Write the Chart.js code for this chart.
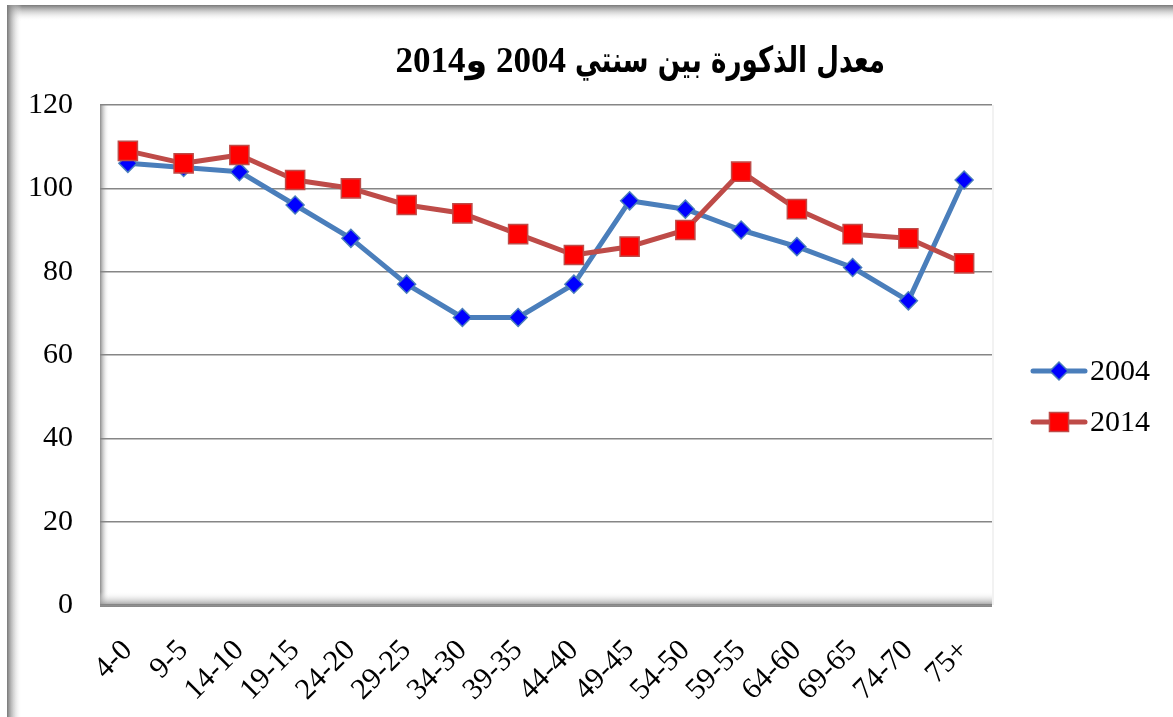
<!DOCTYPE html>
<html>
<head>
<meta charset="utf-8">
<script src="https://cdn.jsdelivr.net/npm/chart.js@4"></script>
<style>
  html, body { margin: 0; padding: 0; background: #ffffff; }
  canvas { display: block; }
</style>
</head>
<body>
<canvas id="c" width="1173" height="717"></canvas>
<script>
const titleWords = "معدل الذكورة بين سنتي";
const titleYears = "2004 و2014";
const categories = ["4-0","9-5","14-10","19-15","24-20","29-25","34-30","39-35","44-40","49-45","54-50","59-55","64-60","69-65","74-70","75+"];
const series2004 = [106,105,104,96,88,77,69,69,77,97,95,90,86,81,73,102];
const series2014 = [109,106,108,102,100,96,94,89,84,86,90,104,95,89,88,82];
const seriesNames = ["2004","2014"];
const yTicks = [0,20,40,60,80,100,120];

const SERIF = "'Liberation Serif', 'Times New Roman', 'DejaVu Sans', serif";

function fitText(ctx, text, rightX, baseY, maxW) {
  const w = ctx.measureText(text).width;
  const sx = Math.min(1, maxW / w);
  ctx.save();
  ctx.translate(rightX, baseY);
  ctx.scale(sx, 1);
  ctx.textAlign = 'right';
  ctx.fillText(text, 0, 0);
  ctx.restore();
}

const decorPlugin = {
  id: 'decor',
  beforeDraw(chart) {
    const ctx = chart.ctx;
    const a = chart.chartArea;
    ctx.save();
    let g = ctx.createLinearGradient(0, 5, 0, 21);
    g.addColorStop(0, 'rgba(120,120,120,1)');
    g.addColorStop(1, 'rgba(255,255,255,0)');
    ctx.fillStyle = g;
    ctx.fillRect(7, 5, chart.width - 7, 16);
    g = ctx.createLinearGradient(7, 0, 22, 0);
    g.addColorStop(0, 'rgba(120,120,120,1)');
    g.addColorStop(1, 'rgba(255,255,255,0)');
    ctx.fillStyle = g;
    ctx.fillRect(7, 5, 15, chart.height - 5);
    g = ctx.createLinearGradient(a.left, 0, a.left + 9, 0);
    g.addColorStop(0, 'rgba(140,140,140,1)');
    g.addColorStop(1, 'rgba(255,255,255,0)');
    ctx.fillStyle = g;
    ctx.fillRect(a.left, a.top, 9, a.bottom - a.top);
    g = ctx.createLinearGradient(0, a.bottom - 13, 0, a.bottom + 2);
    g.addColorStop(0, 'rgba(255,255,255,0)');
    g.addColorStop(1, 'rgba(130,130,130,1)');
    ctx.fillStyle = g;
    ctx.fillRect(a.left, a.bottom - 13, a.right - a.left, 15);
    ctx.fillStyle = '#f2f2f2';
    ctx.fillRect(a.right, a.top, 2, a.bottom - a.top);
    ctx.restore();
  },
  afterDraw(chart) {
    const ctx = chart.ctx;
    ctx.save();
    ctx.direction = 'rtl';
    ctx.fillStyle = '#000';
    ctx.textBaseline = 'alphabetic';
    ctx.font = "bold 36px 'DejaVu Sans', sans-serif";
    fitText(ctx, titleWords, 885, 72, 310);
    ctx.font = "bold 35px " + SERIF;
    fitText(ctx, titleYears, 566, 72, 172);
    ctx.restore();

    ctx.save();
    const items = [
      {y: 371, ds: chart.data.datasets[0]},
      {y: 422, ds: chart.data.datasets[1]}
    ];
    items.forEach(it => {
      const ds = it.ds;
      ctx.strokeStyle = ds.borderColor;
      ctx.lineWidth = ds.borderWidth;
      ctx.lineCap = 'round';
      ctx.beginPath();
      ctx.moveTo(1033, it.y);
      ctx.lineTo(1085, it.y);
      ctx.stroke();
      ctx.fillStyle = ds.pointBackgroundColor;
      ctx.strokeStyle = ds.pointBorderColor;
      ctx.lineWidth = ds.pointBorderWidth;
      Chart.helpers.drawPoint(ctx, {
        pointStyle: ds.pointStyle,
        rotation: 0,
        radius: ds.pointRadius,
        borderWidth: ds.pointBorderWidth
      }, 1059, it.y);
      ctx.font = "30px " + SERIF;
      ctx.fillStyle = '#000';
      ctx.textAlign = 'left';
      ctx.textBaseline = 'middle';
      ctx.fillText(ds.label, 1090, it.y + 1);
    });
    ctx.restore();
  }
};

new Chart(document.getElementById('c'), {
  type: 'line',
  data: {
    labels: categories,
    datasets: [
      {
        label: seriesNames[0],
        data: series2004,
        borderColor: '#4A7EBB',
        borderWidth: 5,
        pointStyle: 'rectRot',
        pointRadius: 9,
        pointHoverRadius: 9,
        pointBackgroundColor: '#0000FF',
        pointBorderColor: '#4A7EBB',
        pointBorderWidth: 1.5,
        tension: 0,
        borderJoinStyle: 'round',
        order: 2
      },
      {
        label: seriesNames[1],
        data: series2014,
        borderColor: '#BE4B48',
        borderWidth: 5,
        pointStyle: 'rect',
        pointRadius: 13.5,
        pointHoverRadius: 13.5,
        pointBackgroundColor: '#FF0000',
        pointBorderColor: '#BE4B48',
        pointBorderWidth: 1.5,
        tension: 0,
        borderJoinStyle: 'round',
        order: 1
      }
    ]
  },
  options: {
    responsive: false,
    animation: false,
    devicePixelRatio: 1,
    layout: { padding: { top: 105, right: 181, left: 0, bottom: 0 } },
    plugins: {
      legend: { display: false },
      title: { display: false },
      tooltip: { enabled: false }
    },
    scales: {
      x: {
        offset: true,
        grid: { display: false, drawTicks: false },
        border: { display: false },
        ticks: {
          autoSkip: false,
          minRotation: 45,
          maxRotation: 45,
          padding: 28,
          color: '#000',
          font: { family: SERIF, size: 30 }
        },
        afterFit(scale) { scale.height = 112; }
      },
      y: {
        min: 0,
        max: 120,
        afterBuildTicks(scale) { scale.ticks = yTicks.map(v => ({ value: v })); },
        grid: { color: '#868686', lineWidth: 1.5, drawTicks: false },
        border: { display: false },
        ticks: {
          padding: 27,
          color: '#000',
          font: { family: SERIF, size: 30 }
        },
        afterFit(scale) { scale.width = 100; }
      }
    }
  },
  plugins: [decorPlugin]
});
</script>
</body>
</html>
